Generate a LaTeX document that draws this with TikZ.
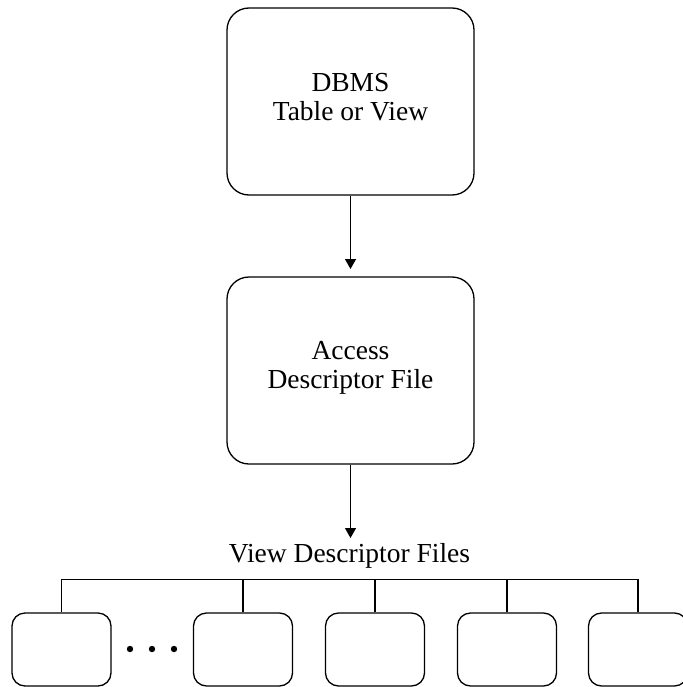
\documentclass[tikz,border=0pt]{standalone}
\usepackage{fontspec}
\setmainfont{Liberation Serif}
\usetikzlibrary{arrows.meta}
\tikzset{
  bigbox/.style={draw, line width=1.3pt, rounded corners=22pt, minimum width=247pt, minimum height=187pt, inner sep=0pt},
  smallbox/.style={draw, line width=1.3pt, rounded corners=13pt, minimum width=99pt, minimum height=73pt, inner sep=0pt},
  lbl/.style={font=\fontsize{27.5}{29}\selectfont, align=center, inner sep=0pt},
  arr/.style={line width=1.3pt, -{Triangle[length=10pt,width=11pt]}},
  conn/.style={line width=1.3pt},
}
\begin{document}
\begin{tikzpicture}[x=1pt,y=-1pt]
\useasboundingbox (0,0) rectangle (682,687);
% main boxes
\node[bigbox] (top) at (350.5,101.5) {};
\node[lbl] (toptext) at (350.5,97.5) {DBMS\\Table or View};
\node[bigbox] (mid) at (350.5,370.5) {};
\node[lbl] (midtext) at (350.5,368) {Access\\Descriptor File};
\coordinate (a1) at (350.5,269);
\coordinate (a2) at (350.5,538);
\draw[arr] (top.south) -- (a1);
\draw[arr] (mid.south) -- (a2);
\node[lbl, anchor=base] (vdf) at (349.5,562) {View Descriptor Files};
% bottom boxes
\node[smallbox] (b1) at (61.5,649.5) {};
\node[smallbox] (b2) at (243,649.5) {};
\node[smallbox] (b3) at (375,649.5) {};
\node[smallbox] (b4) at (507,649.5) {};
\node[smallbox] (b5) at (638,649.5) {};
\coordinate (bus) at (0,579.5);
\draw[conn] (b1.north) -- (b1.north |- bus) -- (b5.north |- bus) -- (b5.north);
\draw[conn] (b2.north) -- (b2.north |- bus);
\draw[conn] (b3.north) -- (b3.north |- bus);
\draw[conn] (b4.north) -- (b4.north |- bus);
% ellipsis dots
\fill (130,649) circle (3.2pt);
\fill (152,649) circle (3.2pt);
\fill (174,649) circle (3.2pt);
\end{tikzpicture}
\end{document}
